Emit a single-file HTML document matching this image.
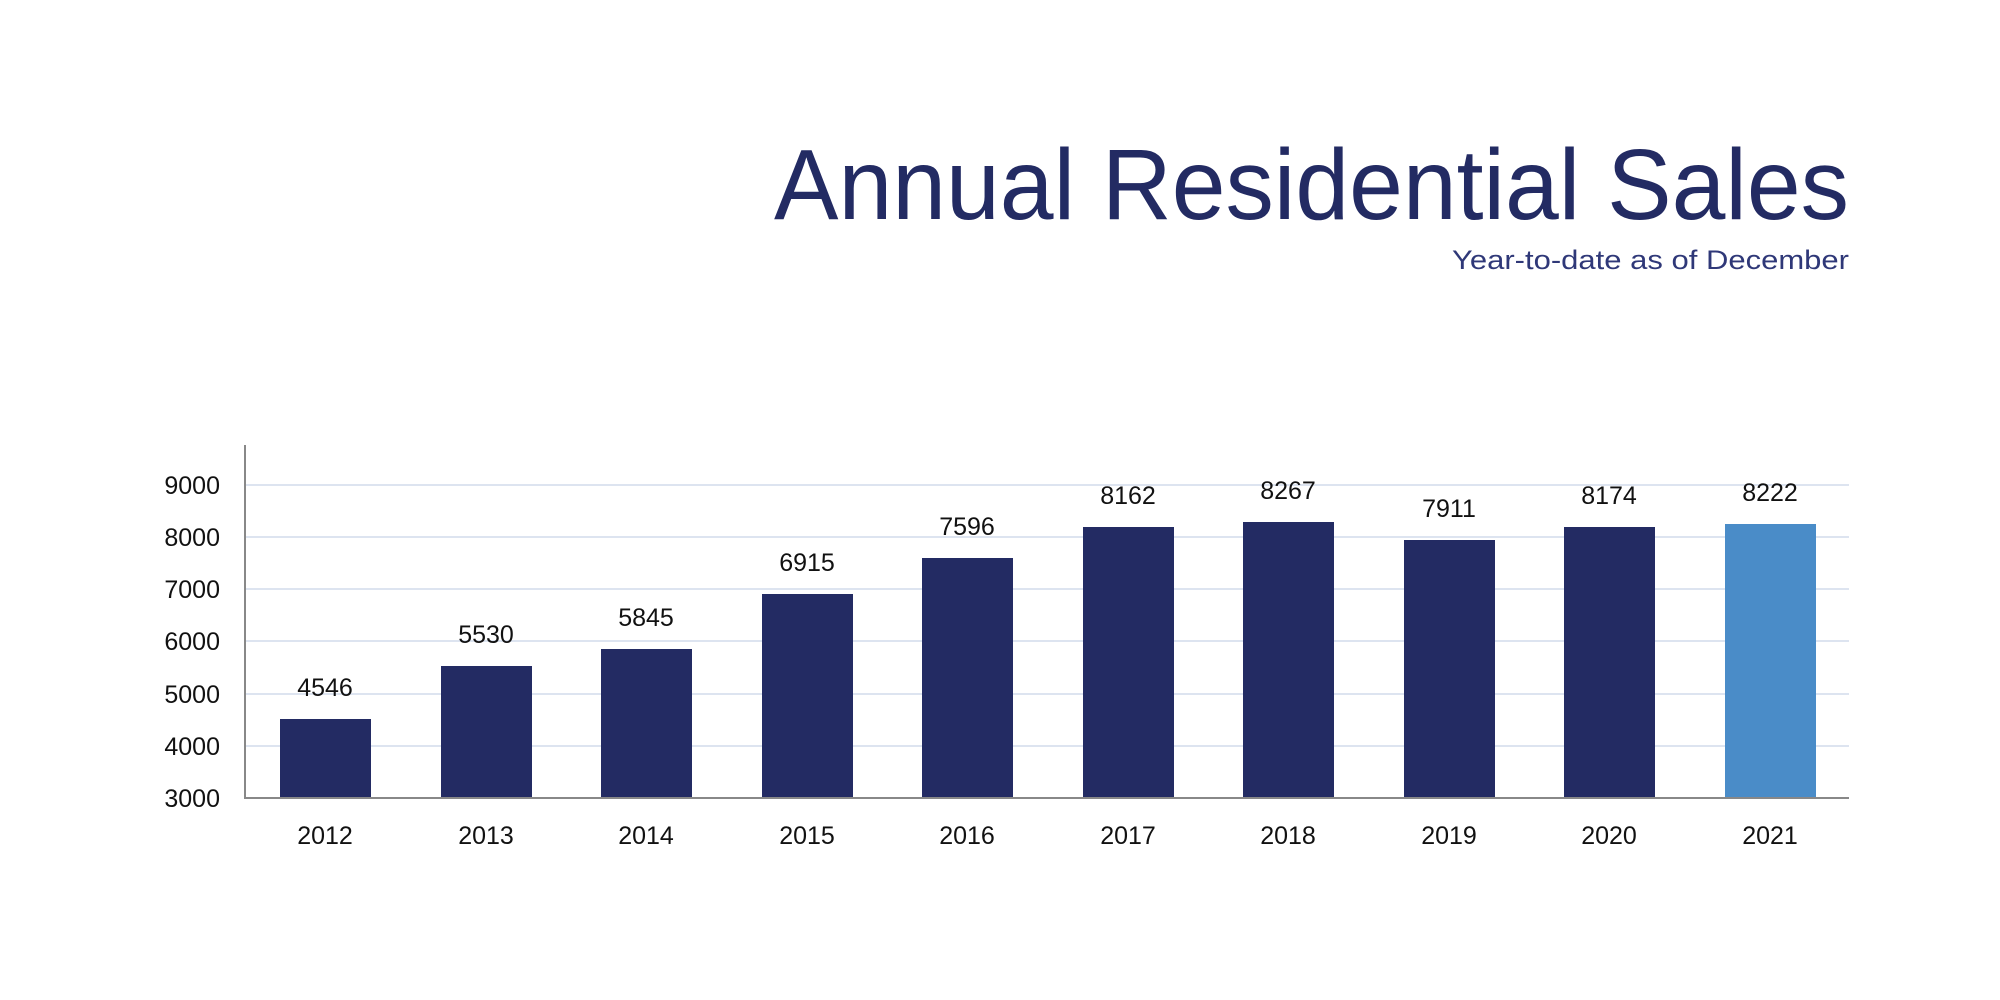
<!DOCTYPE html>
<html><head><meta charset="utf-8"><style>
html,body{margin:0;padding:0;background:#fff;}
svg{display:block;font-family:"Liberation Sans",sans-serif;}
</style></head><body>
<svg width="2000" height="1000" viewBox="0 0 2000 1000" xmlns="http://www.w3.org/2000/svg">
<rect width="2000" height="1000" fill="#fff"/>
<text x="1849" y="219" text-anchor="end" font-size="100" fill="#232b63" textLength="1075" lengthAdjust="spacingAndGlyphs">Annual Residential Sales</text>
<text x="1849" y="269" text-anchor="end" font-size="27" fill="#2f3878" textLength="397" lengthAdjust="spacingAndGlyphs">Year-to-date as of December</text>
<g stroke="#dde4f0" stroke-width="2">
<line x1="245" x2="1849" y1="485" y2="485"/>
<line x1="245" x2="1849" y1="537" y2="537"/>
<line x1="245" x2="1849" y1="589" y2="589"/>
<line x1="245" x2="1849" y1="641" y2="641"/>
<line x1="245" x2="1849" y1="694" y2="694"/>
<line x1="245" x2="1849" y1="746" y2="746"/>
</g>
<g font-size="25" fill="#111" text-anchor="end">
<text x="220" y="494">9000</text>
<text x="220" y="546">8000</text>
<text x="220" y="598">7000</text>
<text x="220" y="650">6000</text>
<text x="220" y="703">5000</text>
<text x="220" y="755">4000</text>
<text x="220" y="807">3000</text>
</g>
<g fill="#232b63">
<rect x="280" y="719" width="91" height="79"/>
<rect x="441" y="666" width="91" height="132"/>
<rect x="601" y="649" width="91" height="149"/>
<rect x="762" y="594" width="91" height="204"/>
<rect x="922" y="558" width="91" height="240"/>
<rect x="1083" y="527" width="91" height="271"/>
<rect x="1243" y="522" width="91" height="276"/>
<rect x="1404" y="540" width="91" height="258"/>
<rect x="1564" y="527" width="91" height="271"/>
</g>
<rect x="1725" y="524" width="91" height="274" fill="#4a8cc8"/>
<line x1="245" x2="245" y1="445" y2="799" stroke="#888" stroke-width="2"/>
<line x1="245" x2="1849" y1="798" y2="798" stroke="#888" stroke-width="2"/>
<g font-size="25" fill="#111" text-anchor="middle">
<text x="325" y="696">4546</text>
<text x="486" y="643">5530</text>
<text x="646" y="626">5845</text>
<text x="807" y="571">6915</text>
<text x="967" y="535">7596</text>
<text x="1128" y="504">8162</text>
<text x="1288" y="499">8267</text>
<text x="1449" y="517">7911</text>
<text x="1609" y="504">8174</text>
<text x="1770" y="501">8222</text>
</g>
<g font-size="25" fill="#111" text-anchor="middle">
<text x="325" y="844">2012</text>
<text x="486" y="844">2013</text>
<text x="646" y="844">2014</text>
<text x="807" y="844">2015</text>
<text x="967" y="844">2016</text>
<text x="1128" y="844">2017</text>
<text x="1288" y="844">2018</text>
<text x="1449" y="844">2019</text>
<text x="1609" y="844">2020</text>
<text x="1770" y="844">2021</text>
</g>
</svg>
</body></html>
